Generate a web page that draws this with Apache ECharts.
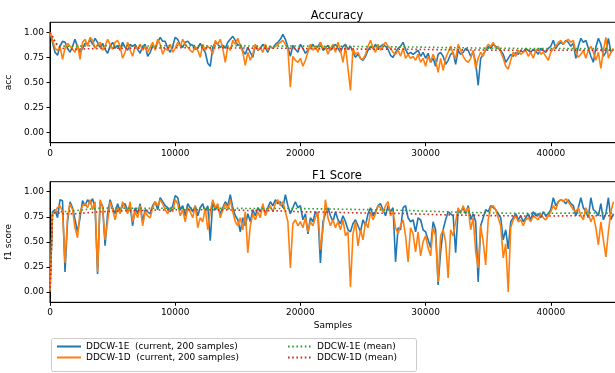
<!DOCTYPE html>
<html><head><meta charset="utf-8">
<script src="https://cdn.jsdelivr.net/npm/echarts@6/dist/echarts.min.js"></script>
<style>html,body{margin:0;padding:0;background:#fff}#c{width:615px;height:373px}</style>
</head><body><div id="c"></div>
<script>
// step of the "current" evaluation window (samples)
const STEP = 200;
const xTicks = [0, 10000, 20000, 30000, 40000];
const yTicks = [0, 0.25, 0.5, 0.75, 1.0];
const names = ['DDCW-1E  (current, 200 samples)', 'DDCW-1D  (current, 200 samples)', 'DDCW-1E (mean)', 'DDCW-1D (mean)'];

const acc1E = [
1.00,0.90,0.80,0.77,0.86,0.91,0.90,0.84,0.80,0.86,
0.93,0.85,0.80,0.84,0.89,0.88,0.93,0.88,0.94,0.90,
0.85,0.89,0.83,0.79,0.86,0.90,0.84,0.87,0.82,0.90,
0.85,0.82,0.88,0.86,0.88,0.83,0.79,0.86,0.88,0.76,
0.80,0.86,0.85,0.90,0.95,0.91,0.91,0.84,0.80,0.86,
0.95,0.93,0.87,0.85,0.90,0.91,0.88,0.87,0.83,0.84,
0.89,0.84,0.80,0.69,0.66,0.85,0.90,0.88,0.85,0.87,
0.84,0.90,0.93,0.96,0.92,0.87,0.88,0.82,0.78,0.85,
0.80,0.75,0.87,0.82,0.84,0.88,0.85,0.80,0.86,0.84,
0.88,0.90,0.93,0.98,0.93,0.85,0.76,0.87,0.83,0.80,
0.88,0.84,0.79,0.82,0.86,0.88,0.84,0.86,0.90,0.82,
0.84,0.87,0.82,0.85,0.88,0.84,0.80,0.86,0.88,0.83,
0.86,0.80,0.75,0.78,0.74,0.72,0.76,0.82,0.86,0.84,
0.88,0.84,0.86,0.88,0.86,0.83,0.77,0.75,0.80,0.84,
0.86,0.90,0.83,0.78,0.80,0.78,0.80,0.82,0.76,0.80,
0.74,0.79,0.70,0.74,0.66,0.78,0.80,0.76,0.68,0.72,
0.78,0.80,0.68,0.82,0.78,0.80,0.84,0.82,0.76,0.80,
0.70,0.47,0.74,0.78,0.82,0.86,0.84,0.88,0.86,0.84,
0.82,0.78,0.70,0.74,0.78,0.76,0.80,0.78,0.82,0.80,
0.84,0.82,0.80,0.83,0.81,0.78,0.84,0.82,0.80,0.84,
0.86,0.92,0.84,0.88,0.90,0.88,0.92,0.90,0.86,0.89,
0.74,0.86,0.94,0.90,0.92,0.84,0.76,0.70,0.85,0.94,
0.88,0.76,0.80,0.94,0.80,0.83];

const acc1D = [
1.00,0.92,0.84,0.82,0.86,0.73,0.84,0.89,0.86,0.83,
0.80,0.88,0.73,0.90,0.93,0.86,0.95,0.92,0.84,0.88,
0.90,0.82,0.86,0.93,0.88,0.83,0.90,0.92,0.86,0.74,
0.80,0.90,0.82,0.76,0.86,0.84,0.88,0.82,0.86,0.80,
0.85,0.90,0.82,0.93,0.88,0.78,0.84,0.82,0.88,0.80,
0.84,0.90,0.86,0.93,0.88,0.85,0.82,0.80,0.86,0.82,
0.75,0.88,0.82,0.86,0.84,0.78,0.92,0.88,0.93,0.84,
0.70,0.86,0.82,0.92,0.88,0.94,0.86,0.80,0.67,0.80,
0.72,0.78,0.88,0.82,0.85,0.80,0.88,0.82,0.86,0.84,
0.86,0.88,0.90,0.92,0.88,0.83,0.45,0.76,0.72,0.70,
0.74,0.66,0.72,0.80,0.88,0.82,0.86,0.80,0.90,0.84,
0.86,0.78,0.84,0.88,0.80,0.90,0.82,0.70,0.86,0.64,
0.42,0.84,0.78,0.80,0.74,0.73,0.78,0.86,0.92,0.84,
0.80,0.88,0.82,0.87,0.90,0.86,0.84,0.80,0.78,0.82,
0.76,0.84,0.74,0.78,0.74,0.76,0.72,0.78,0.70,0.74,
0.66,0.76,0.70,0.78,0.72,0.60,0.74,0.62,0.74,0.80,
0.86,0.78,0.74,0.88,0.82,0.76,0.72,0.70,0.74,0.82,
0.64,0.74,0.80,0.76,0.84,0.88,0.86,0.90,0.84,0.86,
0.80,0.74,0.66,0.63,0.72,0.80,0.76,0.82,0.78,0.80,
0.82,0.76,0.80,0.74,0.82,0.84,0.78,0.80,0.76,0.72,
0.80,0.84,0.86,0.90,0.92,0.88,0.91,0.93,0.90,0.92,
0.80,0.75,0.78,0.82,0.74,0.82,0.86,0.80,0.72,0.80,
0.64,0.82,0.95,0.74,0.80,0.84];

const f1E = [
0.00,0.80,0.82,0.74,0.92,0.91,0.20,0.70,0.90,0.84,
0.72,0.60,0.74,0.91,0.86,0.92,0.88,0.93,0.84,0.18,
0.90,0.86,0.46,0.78,0.92,0.84,0.78,0.88,0.80,0.86,
0.88,0.80,0.86,0.66,0.84,0.78,0.88,0.70,0.82,0.80,
0.78,0.86,0.90,0.82,0.94,0.90,0.86,0.84,0.80,0.86,
0.96,0.94,0.82,0.86,0.76,0.88,0.84,0.80,0.86,0.76,
0.84,0.88,0.80,0.86,0.51,0.90,0.82,0.86,0.78,0.84,
0.90,0.86,0.97,0.84,0.76,0.72,0.60,0.74,0.66,0.78,
0.70,0.82,0.76,0.84,0.80,0.86,0.78,0.84,0.90,0.86,
0.92,0.88,0.90,0.84,0.97,0.86,0.78,0.84,0.90,0.84,
0.86,0.72,0.78,0.58,0.74,0.70,0.80,0.76,0.29,0.70,
0.78,0.84,0.76,0.70,0.80,0.72,0.68,0.76,0.70,0.62,
0.60,0.68,0.72,0.66,0.60,0.72,0.66,0.78,0.84,0.76,
0.80,0.86,0.88,0.82,0.76,0.86,0.80,0.84,0.30,0.64,
0.62,0.84,0.86,0.74,0.70,0.72,0.60,0.74,0.72,0.62,
0.60,0.52,0.44,0.70,0.62,0.07,0.40,0.62,0.72,0.80,
0.78,0.76,0.39,0.82,0.80,0.84,0.78,0.86,0.72,0.78,
0.70,0.10,0.66,0.74,0.82,0.80,0.86,0.84,0.82,0.78,
0.74,0.52,0.62,0.43,0.70,0.74,0.78,0.72,0.76,0.70,
0.74,0.78,0.72,0.80,0.76,0.78,0.74,0.80,0.76,0.78,
0.82,0.94,0.86,0.90,0.92,0.91,0.88,0.92,0.88,0.86,
0.76,0.84,0.94,0.84,0.80,0.74,0.94,0.82,0.80,0.76,
0.88,0.72,0.78,0.94,0.72,0.78];

const f1D = [
0.00,0.78,0.80,0.84,0.86,0.80,0.29,0.74,0.88,0.82,
0.64,0.54,0.80,0.86,0.88,0.84,0.92,0.82,0.90,0.20,
0.92,0.84,0.52,0.70,0.90,0.82,0.72,0.84,0.78,0.90,
0.84,0.78,0.90,0.70,0.80,0.74,0.86,0.66,0.80,0.76,
0.74,0.84,0.90,0.86,0.92,0.88,0.82,0.78,0.84,0.80,
0.92,0.88,0.76,0.82,0.70,0.84,0.80,0.74,0.86,0.64,
0.74,0.70,0.84,0.62,0.80,0.92,0.84,0.88,0.74,0.82,
0.88,0.82,0.92,0.80,0.70,0.66,0.74,0.62,0.80,0.39,
0.66,0.78,0.72,0.80,0.74,0.88,0.76,0.82,0.86,0.80,
0.88,0.92,0.86,0.90,0.80,0.70,0.24,0.68,0.72,0.66,
0.70,0.64,0.74,0.60,0.70,0.66,0.74,0.80,0.42,0.62,
0.92,0.74,0.66,0.72,0.64,0.70,0.62,0.72,0.56,0.60,
0.05,0.58,0.70,0.46,0.62,0.52,0.70,0.64,0.80,0.72,
0.78,0.86,0.84,0.80,0.86,0.90,0.76,0.80,0.64,0.58,
0.66,0.72,0.56,0.30,0.64,0.58,0.40,0.60,0.36,0.50,
0.56,0.44,0.36,0.64,0.56,0.10,0.56,0.62,0.50,0.14,
0.62,0.56,0.70,0.84,0.78,0.86,0.80,0.84,0.62,0.74,
0.40,0.24,0.66,0.50,0.27,0.72,0.84,0.86,0.82,0.74,
0.66,0.34,0.48,0.00,0.64,0.72,0.76,0.70,0.72,0.66,
0.72,0.74,0.70,0.76,0.74,0.72,0.78,0.74,0.72,0.76,
0.80,0.86,0.82,0.90,0.92,0.90,0.93,0.90,0.86,0.82,
0.80,0.84,0.76,0.72,0.84,0.78,0.70,0.76,0.64,0.47,
0.70,0.52,0.35,0.60,0.80,0.90];

const meanX = [0,200,400,600,800,1000,2000,3000,4000,5000,6000,7000,8000,9000,10000,11000,12000,13000,14000,15000,16000,17000,18000,19000,20000,21000,22000,23000,24000,25000,26000,27000,28000,29000,30000,31000,32000,33000,34000,35000,36000,37000,38000,39000,40000,41000,42000,43000,44000,45000];

const accMean1E = [1.00,0.95,0.90,0.87,0.865,0.862,
0.860,0.865,0.866,0.866,0.865,0.864,0.863,0.865,0.866,0.867,0.866,0.863,0.863,0.865,0.863,0.861,0.861,0.863,0.862,0.861,0.861,0.860,0.860,0.857,0.856,0.855,0.854,0.853,0.851,0.848,0.846,0.845,0.843,0.841,0.841,0.839,0.838,0.837,0.837,0.838,0.838,0.838,0.838,0.838];
const accMean1D = [1.00,0.96,0.91,0.87,0.85,0.84,
0.830,0.835,0.838,0.840,0.841,0.842,0.843,0.844,0.845,0.845,0.845,0.844,0.844,0.843,0.842,0.841,0.841,0.840,0.838,0.836,0.836,0.835,0.833,0.832,0.832,0.832,0.831,0.830,0.828,0.826,0.825,0.824,0.823,0.822,0.822,0.821,0.821,0.820,0.820,0.821,0.822,0.822,0.822,0.822];
const f1Mean1E = [0.00,0.80,0.80,0.80,0.80,0.80,
0.810,0.825,0.835,0.838,0.836,0.835,0.834,0.835,0.835,0.836,0.835,0.834,0.834,0.834,0.832,0.832,0.832,0.833,0.832,0.830,0.828,0.826,0.824,0.822,0.820,0.818,0.815,0.811,0.806,0.802,0.798,0.795,0.792,0.789,0.786,0.785,0.784,0.784,0.785,0.786,0.787,0.787,0.787,0.787];
const f1Mean1D = [0.00,0.78,0.79,0.79,0.785,0.78,
0.780,0.790,0.800,0.805,0.810,0.812,0.815,0.818,0.820,0.820,0.820,0.819,0.818,0.816,0.812,0.811,0.810,0.806,0.800,0.798,0.797,0.794,0.790,0.788,0.786,0.785,0.783,0.779,0.775,0.771,0.768,0.766,0.764,0.762,0.760,0.759,0.758,0.758,0.758,0.759,0.760,0.760,0.760,0.760];

const colors = ['#1f77b4', '#ff7f0e', '#2ca02c', '#d62728'];
const FONT = 'DejaVu Sans';

const cur = arr => arr.map((v, i) => [i * STEP, v]);
const mean = arr => arr.map((v, i) => [meanX[i], v]);

function lineSeries(name, data, idx, color, dotted) {
  return {
    name, type: 'line', data, xAxisIndex: idx, yAxisIndex: idx,
    showSymbol: false, symbol: 'none', animation: false, silent: true,
    lineStyle: dotted ? {color, width: 1.6, type: [1.6, 2.6]} : {color, width: 1.6},
    itemStyle: {color}
  };
}

const X_MAX = 45208;
function xAxis(idx, withName) {
  return {
    type: 'value', gridIndex: idx, min: 0, max: X_MAX,
    name: withName ? 'Samples' : '', nameLocation: 'middle', nameGap: 19,
    nameTextStyle: {fontFamily: FONT, fontSize: 9, color: '#000'},
    axisLine: {show: true, onZero: false, lineStyle: {color: '#000', width: 1}},
    axisTick: {show: true, length: 3.5, lineStyle: {color: '#000'}, customValues: xTicks},
    axisLabel: {fontFamily: FONT, fontSize: 9, color: '#000', margin: 6, customValues: xTicks,
      formatter: v => String(v)},
    splitLine: {show: false}
  };
}
function yAxis(idx, name) {
  return {
    type: 'value', gridIndex: idx, min: -0.104, max: 1.1,
    name, nameLocation: 'middle', nameGap: 30,
    nameTextStyle: {fontFamily: FONT, fontSize: 9, color: '#000'},
    axisLine: {show: true, lineStyle: {color: '#000', width: 1}},
    axisTick: {show: true, length: 3.5, lineStyle: {color: '#000'}, customValues: yTicks},
    axisLabel: {fontFamily: FONT, fontSize: 9, color: '#000', margin: 6, customValues: yTicks,
      formatter: v => v.toFixed(2)},
    splitLine: {show: false}
  };
}

const legendCommon = {
  orient: 'vertical', top: 342, itemWidth: 24, itemHeight: 10, itemGap: 2, padding: 0, z: 10,
  itemStyle: {opacity: 0, borderWidth: 0},
  textStyle: {fontFamily: FONT, fontSize: 9, color: '#000'}
};

const chart = echarts.init(document.getElementById('c'), null, {renderer: 'canvas'});
chart.setOption({
  animation: false,
  backgroundColor: '#fff',
  textStyle: {fontFamily: FONT},
  title: [
    {text: 'Accuracy', left: 332, top: 5, textAlign: 'center',
     textStyle: {fontFamily: FONT, fontSize: 11.5, fontWeight: 'normal', color: '#000'}},
    {text: 'F1 Score', left: 332, top: 165, textAlign: 'center',
     textStyle: {fontFamily: FONT, fontSize: 11.5, fontWeight: 'normal', color: '#000'}}
  ],
  grid: [
    {left: 50, top: 22.3, width: 566, height: 120.4, show: true, borderColor: '#000', borderWidth: 1,
     backgroundColor: 'transparent', containLabel: false, outerBoundsMode: 'none'},
    {left: 50, top: 181.7, width: 566, height: 120.6, show: true, borderColor: '#000', borderWidth: 1,
     backgroundColor: 'transparent', containLabel: false, outerBoundsMode: 'none'}
  ],
  xAxis: [xAxis(0, false), xAxis(1, true)],
  yAxis: [yAxis(0, 'acc'), yAxis(1, 'f1 score')],
  graphic: [{
    type: 'rect', z: 0, silent: true,
    shape: {x: 51.5, y: 338.5, width: 365, height: 33, r: 2},
    style: {fill: '#fff', stroke: '#cccccc', lineWidth: 1}
  }],
  legend: [
    Object.assign({data: [names[0], names[1]], left: 56}, legendCommon),
    Object.assign({data: [names[2], names[3]], left: 287}, legendCommon)
  ],
  series: [
    lineSeries(names[0], cur(acc1E), 0, colors[0], false),
    lineSeries(names[1], cur(acc1D), 0, colors[1], false),
    lineSeries(names[2], mean(accMean1E), 0, colors[2], true),
    lineSeries(names[3], mean(accMean1D), 0, colors[3], true),
    lineSeries(names[0], cur(f1E), 1, colors[0], false),
    lineSeries(names[1], cur(f1D), 1, colors[1], false),
    lineSeries(names[2], mean(f1Mean1E), 1, colors[2], true),
    lineSeries(names[3], mean(f1Mean1D), 1, colors[3], true)
  ]
});
</script></body></html>
